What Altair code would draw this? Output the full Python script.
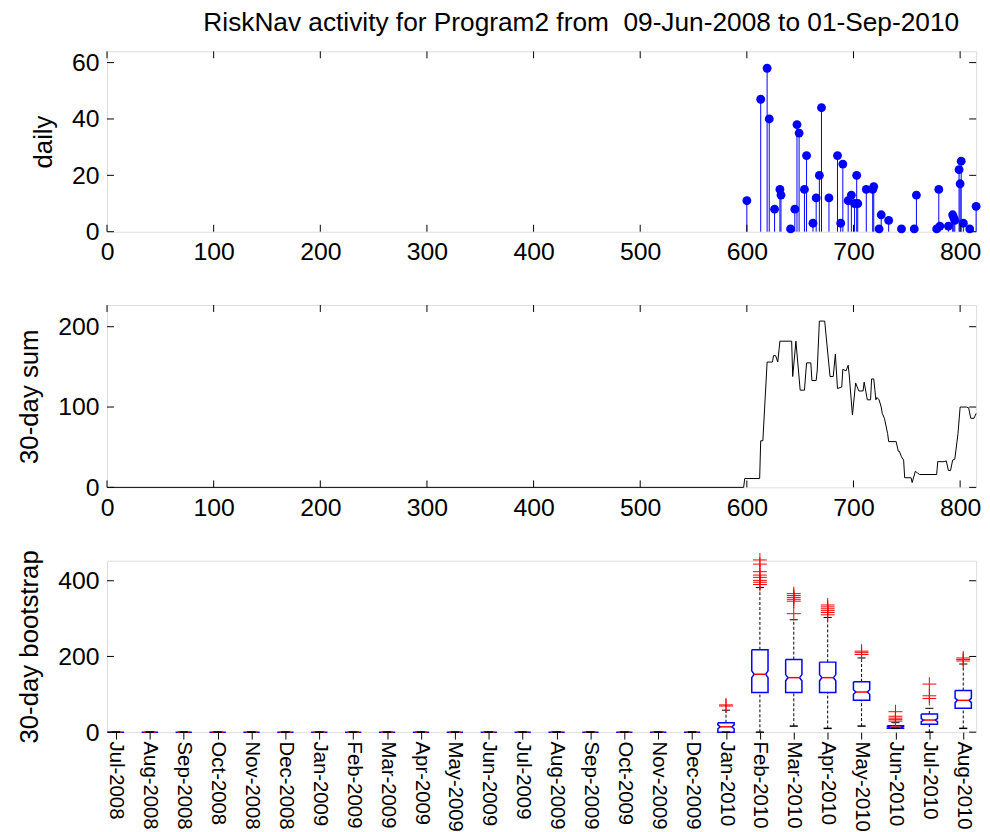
import json

import altair as alt
import pandas as pd

FONT = "Liberation Sans"
TITLE = "RiskNav activity for Program2 from \u00a009-Jun-2008 to 01-Sep-2010"

# ---- daily activity (day index since 09-Jun-2008, count) ----
daily_day = [600, 613, 619, 621, 626, 631, 632, 641, 645, 647, 649, 654, 656, 662,
             665, 668, 670, 677, 685, 688, 690, 695, 698, 701, 703, 704, 712, 718,
             719, 724, 726, 733, 745, 757, 759, 778, 780, 781, 789, 793, 794, 795,
             799, 800, 801, 803, 809, 815]
daily_count = [11, 47, 58, 40, 8, 15, 13, 1, 8, 38, 35, 15, 27, 3,
               12, 20, 44, 12, 27, 3, 24, 11, 13, 10, 20, 10, 15, 15,
               16, 1, 6, 4, 1, 1, 13, 1, 15, 2, 2, 6, 5, 4,
               22, 17, 25, 3, 1, 9]

# ---- 30-day running sum (breakpoints of the curve) ----
sum_day = [0, 597, 598, 612, 613, 615, 619, 624, 625, 627, 629, 631, 642, 643,
           646, 650, 654, 656, 660, 661, 665, 666, 668, 673, 678, 681, 683, 685,
           689, 690, 693, 695, 696, 699, 702, 705, 709, 710, 713, 716, 717, 719,
           721, 722, 724, 726, 727, 729, 732, 733, 740, 742, 743, 745, 747, 748,
           754, 755, 758, 760, 762, 778, 779, 785, 787, 789, 791, 793, 795, 798,
           800, 806, 808, 810, 813, 815]
sum_value = [0, 0, 11, 11, 58, 58, 156, 156, 164, 164, 156, 182, 182, 138,
             182, 121, 121, 155, 155, 133, 133, 146, 207, 207, 138, 138, 166, 123,
             125, 147, 145, 152, 140, 90, 130, 120, 120, 131, 109, 109, 135, 135,
             109, 112, 109, 100, 92, 86, 67, 57, 57, 45, 45, 38, 34, 12,
             12, 6, 20, 18, 16, 16, 32, 32, 33, 21, 21, 34, 35, 67,
             100, 100, 99, 86, 86, 92]

# ---- monthly 30-day bootstrap box statistics ----
months = ["Jul-2008", "Aug-2008", "Sep-2008", "Oct-2008", "Nov-2008", "Dec-2008",
          "Jan-2009", "Feb-2009", "Mar-2009", "Apr-2009", "May-2009", "Jun-2009",
          "Jul-2009", "Aug-2009", "Sep-2009", "Oct-2009", "Nov-2009", "Dec-2009",
          "Jan-2010", "Feb-2010", "Mar-2010", "Apr-2010", "May-2010", "Jun-2010",
          "Jul-2010", "Aug-2010"]
box_q1 = [0, 0, 0, 0, 0, 0, 0, 0, 0, 0, 0, 0, 0, 0, 0, 0, 0, 0,
          0, 105, 105, 105, 84, 10, 21, 63]
box_med = [0, 0, 0, 0, 0, 0, 0, 0, 0, 0, 0, 0, 0, 0, 0, 0, 0, 0,
           14, 153, 144, 144, 106, 13, 32, 84]
box_q3 = [0, 0, 0, 0, 0, 0, 0, 0, 0, 0, 0, 0, 0, 0, 0, 0, 0, 0,
          25, 218, 192, 185, 133, 17, 48, 110]
notch_lo = [0, 0, 0, 0, 0, 0, 0, 0, 0, 0, 0, 0, 0, 0, 0, 0, 0, 0,
            9, 144, 136, 136, 100, 11, 28, 78]
notch_hi = [0, 0, 0, 0, 0, 0, 0, 0, 0, 0, 0, 0, 0, 0, 0, 0, 0, 0,
            19, 162, 152, 152, 112, 15, 36, 90]
whisk_lo = [0, 0, 0, 0, 0, 0, 0, 0, 0, 0, 0, 0, 0, 0, 0, 0, 0, 0,
            0, 0, 16, 10, 16, 10, 0, 10]
whisk_hi = [0, 0, 0, 0, 0, 0, 0, 0, 0, 0, 0, 0, 0, 0, 0, 0, 0, 0,
            58, 382, 297, 303, 196, 25, 63, 180]
outlier_month = [19, 19,
                 20, 20, 20, 20, 20, 20, 20, 20,
                 21, 21, 21, 21, 21, 21,
                 22, 22, 22, 22, 22, 22,
                 23, 23, 23,
                 24, 24, 24, 24, 24,
                 25, 25, 25,
                 26, 26, 26]
outlier_value = [69, 72,
                 455, 444, 424, 415, 409, 401, 396, 390,
                 366, 361, 356, 351, 346, 313,
                 336, 331, 326, 321, 316, 310,
                 214, 210, 205,
                 54, 42, 37, 33, 29,
                 127, 96, 89,
                 196, 192, 188]

# ---- axis tick values ----
day_ticks = [0, 100, 200, 300, 400, 500, 600, 700, 800]
daily_ticks = [0, 20, 40, 60]
sum_ticks = [0, 100, 200]
boot_ticks = [0, 200, 400]

W = 877
H_TOP, H_MID, H_BOT = 182, 184, 173
TICK = 7
FS = 25              # tick-label font size
TFS = 26             # axis-title font size
HALF_BOX = 0.24      # half box width, in month units
HALF_NOTCH = 0.17    # half width at the median notch

x_day = alt.Scale(domain=[0, 815], nice=False, zero=False)


def y_axis(title, ticks, h, title_x):
    return alt.Axis(
        title=title, values=ticks, ticks=False, domain=False, grid=False,
        labelFont=FONT, labelFontSize=FS, labelColor="black", labelPadding=8,
        labelOverlap=False,
        titleFont=FONT, titleFontSize=TFS, titleFontWeight="normal", titleColor="black",
        titleAngle=-90, titleX=title_x, titleY=h / 2, titleAlign="center",
        titleBaseline="alphabetic",
    )


day_axis = alt.Axis(
    title=None, values=day_ticks, ticks=False, domain=False, grid=False,
    labelFont=FONT, labelFontSize=FS, labelColor="black", labelPadding=8,
    labelFlush=False, labelOverlap=False,
)


def inner_ticks(xticks, yticks, xscale, yscale, xaxis, yaxis, h):
    """MATLAB-style ticks drawn inside the box on all four sides."""
    layers = []
    if xticks is not None:
        xt = pd.DataFrame({"t": xticks})
        for y0, y1 in ((h - TICK, h), (0, TICK)):
            layers.append(
                alt.Chart(xt).mark_rule(color="black", strokeWidth=1).encode(
                    x=alt.X("t:Q", scale=xscale, axis=xaxis),
                    y=alt.value(y0), y2=alt.value(y1)))
    yt = pd.DataFrame({"t": yticks})
    for x0, x1 in ((0, TICK), (W - TICK, W)):
        layers.append(
            alt.Chart(yt).mark_rule(color="black", strokeWidth=1).encode(
                y=alt.Y("t:Q", scale=yscale, axis=yaxis),
                x=alt.value(x0), x2=alt.value(x1)))
    return layers


# ---------------- top: daily stem plot ----------------
y_daily = alt.Scale(domain=[0, 64], nice=False, zero=False)
daily_yaxis = y_axis("daily", daily_ticks, H_TOP, -56)
daily_df = pd.DataFrame({"day": daily_day, "count": daily_count})

stems = alt.Chart(daily_df).mark_rule(color="blue", strokeWidth=1).encode(
    x=alt.X("day:Q", scale=x_day, axis=day_axis),
    y=alt.Y("count:Q", scale=y_daily, axis=daily_yaxis),
    y2=alt.datum(0),
)
heads = alt.Chart(daily_df).mark_point(
    filled=True, shape="circle", size=80, color="blue", opacity=1
).encode(x=alt.X("day:Q", scale=x_day, axis=day_axis),
         y=alt.Y("count:Q", scale=y_daily, axis=daily_yaxis))

top = alt.layer(
    stems, heads,
    *inner_ticks(day_ticks, daily_ticks, x_day, y_daily, day_axis, daily_yaxis, H_TOP)
).properties(
    width=W, height=H_TOP,
    title=alt.TitleParams(TITLE, font=FONT, fontSize=26.5, fontWeight="normal",
                          color="black", anchor="middle", dx=40, offset=14),
)

# ---------------- middle: 30-day sum ----------------
y_sum = alt.Scale(domain=[0, 227], nice=False, zero=False)
sum_yaxis = y_axis("30-day sum", sum_ticks, H_MID, -70)
sum_df = pd.DataFrame({"day": sum_day, "total": sum_value})
sum_line = alt.Chart(sum_df).mark_line(color="black", strokeWidth=1).encode(
    x=alt.X("day:Q", scale=x_day, axis=day_axis),
    y=alt.Y("total:Q", scale=y_sum, axis=sum_yaxis),
    order="day:Q",
)
mid = alt.layer(
    sum_line, *inner_ticks(day_ticks, sum_ticks, x_day, y_sum, day_axis, sum_yaxis, H_MID)
).properties(width=W, height=H_MID)

# ---------------- bottom: notched box plots by month ----------------
x_month = alt.Scale(domain=[0.737, 26.38], nice=False, zero=False)
y_boot = alt.Scale(domain=[0, 453], nice=False, zero=False)
boot_yaxis = y_axis("30-day bootstrap", boot_ticks, H_BOT, -70)

poly_rows = []
for i in range(len(months)):
    m = i + 1
    q1, med, q3 = box_q1[i], box_med[i], box_q3[i]
    nl, nh = notch_lo[i], notch_hi[i]
    outline = [(-HALF_BOX, q3), (-HALF_BOX, nh), (-HALF_NOTCH, med), (-HALF_BOX, nl),
               (-HALF_BOX, q1), (HALF_BOX, q1), (HALF_BOX, nl), (HALF_NOTCH, med),
               (HALF_BOX, nh), (HALF_BOX, q3), (-HALF_BOX, q3)]
    for k, (dx, yv) in enumerate(outline):
        poly_rows.append({"box": m, "k": k, "pos": m + dx, "val": yv})
poly_df = pd.DataFrame(poly_rows)

stat_df = pd.DataFrame({
    "m": list(range(1, len(months) + 1)),
    "q1": box_q1, "med": box_med, "q3": box_q3,
    "wlo": whisk_lo, "whi": whisk_hi,
})
stat_df["nleft"] = stat_df["m"] - HALF_NOTCH
stat_df["nright"] = stat_df["m"] + HALF_NOTCH
stat_df["cleft"] = stat_df["m"] - HALF_BOX / 2
stat_df["cright"] = stat_df["m"] + HALF_BOX / 2

month_axis = alt.Axis(
    title=None, values=list(range(1, len(months) + 1)),
    labelExpr=f"{json.dumps(months)}[datum.value - 1]",
    ticks=True, tickSize=TICK, tickColor="black", tickWidth=1,
    domain=False, grid=False, labelAngle=90, labelAlign="left", labelBaseline="middle",
    labelFont=FONT, labelFontSize=20.5, labelColor="black", labelPadding=2,
    labelFlush=False, labelOverlap=False,
)


def mx(field):
    return alt.X(field, scale=x_month, axis=month_axis)


def my(field):
    return alt.Y(field, scale=y_boot, axis=boot_yaxis)


whisk_up = alt.Chart(stat_df).mark_rule(color="black", strokeWidth=1, strokeDash=[3, 2]).encode(
    x=mx("m:Q"), y=my("q3:Q"), y2="whi:Q",
)
whisk_dn = alt.Chart(stat_df).mark_rule(color="black", strokeWidth=1, strokeDash=[3, 2]).encode(
    x=mx("m:Q"), y=my("wlo:Q"), y2="q1:Q",
)
boxes = alt.Chart(poly_df).mark_line(color="blue", strokeWidth=1.5).encode(
    x=mx("pos:Q"), y=my("val:Q"), detail="box:N", order="k:Q",
)
medians = alt.Chart(stat_df).mark_rule(color="red", strokeWidth=1.5).encode(
    x=mx("nleft:Q"), x2="nright:Q", y=my("med:Q"),
)
cap_hi = alt.Chart(stat_df).mark_rule(color="black", strokeWidth=1).encode(
    x=mx("cleft:Q"), x2="cright:Q", y=my("whi:Q"),
)
cap_lo = alt.Chart(stat_df).mark_rule(color="black", strokeWidth=1.5).encode(
    x=mx("cleft:Q"), x2="cright:Q", y=my("wlo:Q"),
)
out_df = pd.DataFrame({"m": outlier_month, "v": outlier_value})
outliers = alt.Chart(out_df).mark_point(
    shape="M-1,0L1,0M0,-1L0,1", size=196, filled=False, color="red",
    strokeWidth=1, opacity=1,
).encode(x=mx("m:Q"), y=my("v:Q"))

bot = alt.layer(
    whisk_up, whisk_dn, boxes, medians, cap_hi, cap_lo, outliers,
    *inner_ticks(None, boot_ticks, x_month, y_boot, month_axis, boot_yaxis, H_BOT),
).properties(width=W, height=H_BOT)

chart = alt.vconcat(top, mid, bot, spacing=74, bounds="flush").properties(
    padding={"left": 16, "top": 6, "right": 8, "bottom": 0},
).configure_view(stroke="black", strokeWidth=1.2).configure(background="white")

chart.save("out.html", embed_options={"renderer": "svg", "actions": False})
